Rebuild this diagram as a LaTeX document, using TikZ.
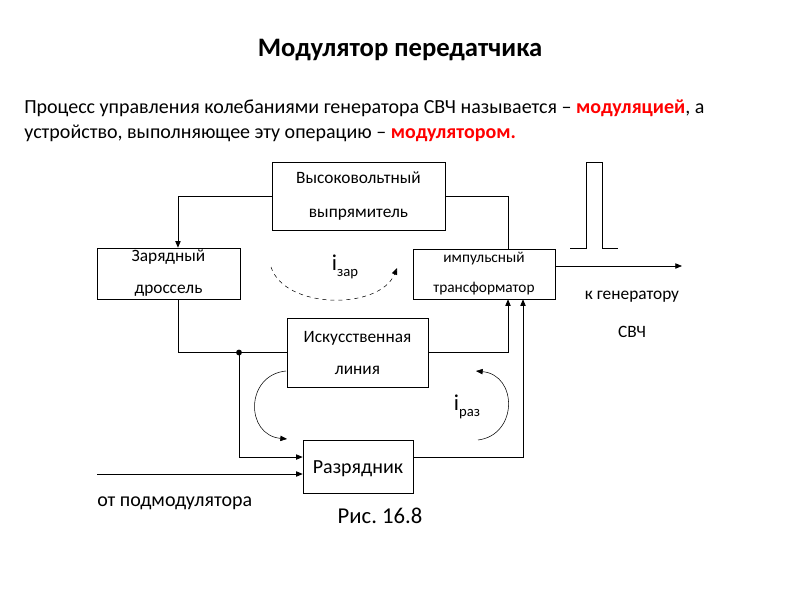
\documentclass[tikz,border=0pt]{standalone}
\usepackage{fontspec}
\setmainfont{Carlito}
\frenchspacing
\usetikzlibrary{arrows.meta,positioning,calc}

\begin{document}
\begin{tikzpicture}[
  x=0.75pt, y=-0.75pt,
  blk/.style={draw, rectangle, inner sep=0pt, align=center},
  lnk/.style={-{Triangle[length=5pt,width=4pt]}, semithick},
  wire/.style={semithick},
  txt/.style={inner sep=0pt},
]
\useasboundingbox (0,0) rectangle (800,600);
% title and text
\node[txt, font=\bfseries\fontsize{20}{24}\selectfont] (ttl) at (400,50) {Модулятор передатчика};
\node[txt, anchor=west, font=\fontsize{15}{18}\selectfont] (ln1) at (24,108)
  {Процесс управления колебаниями генератора СВЧ называется – \textcolor{red}{\textbf{модуляцией}}, а};
\node[txt, anchor=west, font=\fontsize{15}{18}\selectfont] (ln2) at (24,133)
  {устройство, выполняющее эту операцию – \textcolor{red}{\textbf{модулятором.}}};
% blocks
\node[blk, minimum width=129.75pt, minimum height=51pt, font=\fontsize{13}{26}\selectfont] (hv) at (358.5,196) {Высоковольтный\\выпрямитель};
\node[blk, minimum width=107.25pt, minimum height=38.25pt, font=\fontsize{13}{24}\selectfont] (zd) at (168.5,273.5) {Зарядный\\дроссель};
\node[blk, minimum width=106.5pt, minimum height=37.5pt, font=\fontsize{11.5}{22.5}\selectfont] (it) at (484,274) {импульсный\\трансформатор};
\node[blk, minimum width=105.75pt, minimum height=51.75pt, font=\fontsize{13}{24}\selectfont] (il) at (357.5,352.5) {Искусственная\\линия};
\node[blk, minimum width=82.5pt, minimum height=39.75pt, font=\fontsize{15}{18}\selectfont] (rz) at (358,466.5) {\rule{0pt}{13pt}Разрядник};
% connections
\coordinate (dot) at (239,352.5);
\coordinate (in) at (97,474);
\coordinate (out) at (682,266);
\draw[lnk] (hv.west) -| ([xshift=7.1pt]zd.north);
\draw[wire] (hv.east) -| ([xshift=18pt]it.north);
\draw[wire] ([xshift=7.1pt]zd.south) |- (il.west);
\draw[lnk] (il.east) -| ([xshift=18pt]it.south);
\draw[lnk] (dot) |- ([yshift=7.1pt]rz.west);
\draw[lnk] ([yshift=7.1pt]rz.east) -| ([xshift=29.25pt]it.south);
\draw[lnk] (in) -- (in -| rz.west);
\draw[lnk] ([yshift=6pt]it.east) -- (out);
\fill (dot) circle (2.2pt);
% pulse
\draw[wire] (570,248) -- (586,248) -- (586,162) -- (602,162) -- (602,248) -- (618,248);
% currents
\draw[lnk, dashed, thin] (271,267) .. controls (285,310) and (380,310) .. (397,268);
\draw[lnk, thin] (286,371) .. controls (245,375) and (245,435) .. (287,439);
\draw[lnk, thin] (478,440) .. controls (518,435) and (518,375) .. (476,371);
\node[txt, font=\fontsize{17}{20}\selectfont] (izr) at (345,267) {i\raisebox{-0.5ex}{\fontsize{11}{13}\selectfont зар}};
\node[txt, font=\fontsize{17}{20}\selectfont] (irz) at (467,407) {i\raisebox{-0.5ex}{\fontsize{11}{13}\selectfont раз}};
% labels
\node[txt, font=\fontsize{13}{16}\selectfont] (kg) at (632,297) {к генератору};
\node[txt, font=\fontsize{13}{16}\selectfont] (svc) at (632,332) {СВЧ};
\node[txt, anchor=west, font=\fontsize{15}{18}\selectfont] (ot) at (97,503) {от подмодулятора};
\node[txt, font=\fontsize{17}{20}\selectfont] (fig) at (380,516) {Рис. 16.8};
\end{tikzpicture}
\end{document}
